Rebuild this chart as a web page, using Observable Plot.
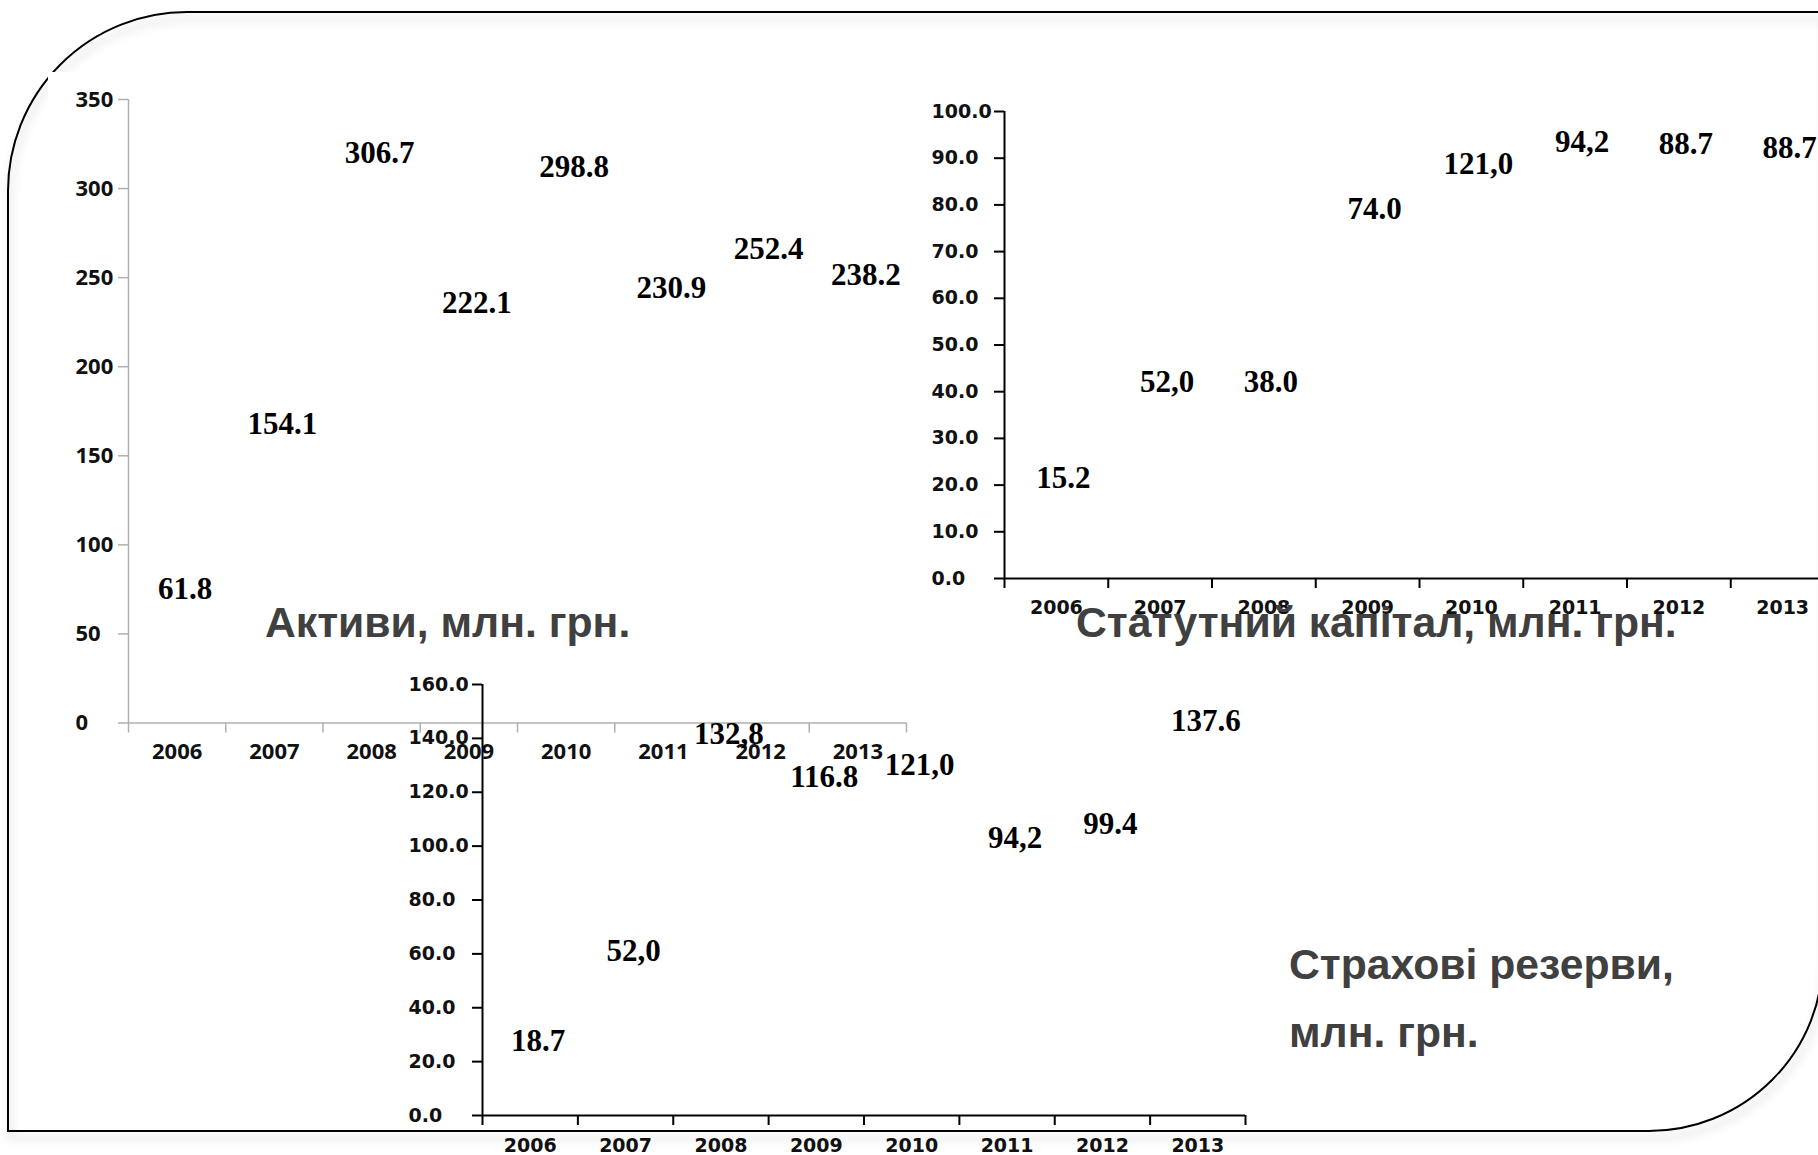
<!DOCTYPE html>
<html>
<head>
<meta charset="utf-8">
<script src="https://cdn.jsdelivr.net/npm/d3@7"></script>
<script src="https://cdn.jsdelivr.net/npm/@observablehq/plot@0.6"></script>
<style>
  html, body { margin: 0; padding: 0; width: 1818px; height: 1155px; overflow: hidden; background: #fff; }
  #frame { position: absolute; left: 7px; top: 11px; width: 1817px; height: 1121px; box-sizing: border-box;
           border: 2.5px solid #000; border-radius: 180px 0 175px 0;
           filter: drop-shadow(2px 7px 5px rgba(0,0,0,0.22)); }
  .chart { position: absolute; }
  .chart svg { overflow: visible; max-width: none !important; height: auto; }
  .title { position: absolute; font-family: "Liberation Sans", Arial, sans-serif; font-weight: bold;
           font-size: 42.7px; color: #404040; white-space: nowrap; line-height: 1; }
</style>
</head>
<body>
<div id="frame"></div>
<div id="c1" class="chart" style="left:48px;top:72px;width:872px;height:708px"></div>
<div id="c2" class="chart" style="left:920px;top:80px;width:920px;height:550px"></div>
<div id="c3" class="chart" style="left:400px;top:660px;width:860px;height:495px"></div>
<div class="title" style="left:265px;top:601px">Активи, млн. грн.</div>
<div class="title" style="left:1076px;top:601px">Статутний капітал, млн. грн.</div>
<div class="title" style="left:1289px;top:943px">Страхові резерви,</div>
<div class="title" style="left:1289px;top:1011px">млн. грн.</div>
<script>
// ---- data ----
const years = ["2006", "2007", "2008", "2009", "2010", "2011", "2012", "2013"];

// Активи, млн. грн.
const assetsValues = [61.8, 154.1, 306.7, 222.1, 298.8, 230.9, 252.4, 238.2];
const assetsLabels = ["61.8", "154.1", "306.7", "222.1", "298.8", "230.9", "252.4", "238.2"];
const assetsTicks = [0, 50, 100, 150, 200, 250, 300, 350];

// Статутний капітал, млн. грн. (label positions; label texts as printed)
const capitalValues = [16.4, 37.0, 37.0, 73.9, 83.6, 88.4, 87.8, 87.1];
const capitalLabels = ["15.2", "52,0", "38.0", "74.0", "121,0", "94,2", "88.7", "88.7"];
const capitalTicks = [0, 10, 20, 30, 40, 50, 60, 70, 80, 90, 100];

// Страхові резерви, млн. грн.
const reservesValues = [18.7, 52.0, 132.8, 116.8, 121.0, 94.2, 99.4, 137.6];
const reservesLabels = ["18.7", "52,0", "132,8", "116.8", "121,0", "94,2", "99.4", "137.6"];
const reservesTicks = [0, 20, 40, 60, 80, 100, 120, 140, 160];

function makeChart(o) {
  const n = years.length;
  const yMax = o.ticks[o.ticks.length - 1];
  const svg = Plot.plot({
    width: o.width, height: o.height,
    marginLeft: o.ml, marginTop: o.mt, marginRight: o.mr, marginBottom: o.mb,
    x: {type: "linear", domain: [0, n], axis: null},
    y: {type: "linear", domain: [0, yMax], axis: null},
    style: {background: o.background, overflow: "visible", maxWidth: "none"},
    marks: [
      Plot.axisY(o.ticks, {tickSize: 10, stroke: o.axisColor, strokeWidth: o.axisWidth, fill: "none", label: null}),
      Plot.axisX(d3.range(0, n + 1), {anchor: "bottom", tickSize: 10, stroke: o.axisColor, strokeWidth: o.axisWidth, fill: "none", label: null}),
      Plot.ruleX([0], {y1: 0, y2: yMax, stroke: o.axisColor, strokeWidth: o.axisWidth}),
      Plot.ruleY([0], {x1: 0, x2: n, stroke: o.axisColor, strokeWidth: o.axisWidth}),
      Plot.text(o.ticks, {y: d => d, text: o.tickFmt, frameAnchor: "left", textAnchor: "start", dx: o.yLabelDx,
        fontFamily: o.tickFont, fontWeight: "bold", fontSize: o.yTickSize, fill: "#111"}),
      Plot.text(years, {x: (d, i) => i + 0.5, text: d => d, frameAnchor: "bottom", dy: o.yearDy,
        fontFamily: o.tickFont, fontWeight: "bold", fontSize: o.xTickSize, fill: "#111"}),
      Plot.text(o.values, {x: (d, i) => i + 0.5, y: d => d, text: (d, i) => o.labels[i], dy: -24, dx: o.valueDx,
        fontFamily: "'Liberation Serif', 'Times New Roman', serif", fontWeight: "bold", fontSize: 31, fill: "#000"})
    ]
  });
  svg.style.maxWidth = "none";
  return svg;
}

document.getElementById("c1").append(makeChart({
  width: 872, height: 708, ml: 80, mt: 27, mr: 14, mb: 57.5,
  ticks: assetsTicks, tickFmt: d => String(d), values: assetsValues, labels: assetsLabels,
  axisColor: "#b0b0b0", axisWidth: 1.5, tickFont: "'Open Sans', sans-serif", yTickSize: 22, xTickSize: 22,
  yLabelDx: -53, yearDy: 36, valueDx: 8, background: "white"
}));

document.getElementById("c2").append(makeChart({
  width: 920, height: 550, ml: 84, mt: 31, mr: 6, mb: 52,
  ticks: capitalTicks, tickFmt: d => d.toFixed(1), values: capitalValues, labels: capitalLabels,
  axisColor: "#000", axisWidth: 2, tickFont: "'DejaVu Sans', sans-serif", yTickSize: 19, xTickSize: 19,
  yLabelDx: -73, yearDy: 35, valueDx: 7, background: "transparent"
}));

document.getElementById("c3").append(makeChart({
  width: 860, height: 495, ml: 82, mt: 24, mr: 15, mb: 40,
  ticks: reservesTicks, tickFmt: d => d.toFixed(1), values: reservesValues, labels: reservesLabels,
  axisColor: "#000", axisWidth: 2, tickFont: "'DejaVu Sans', sans-serif", yTickSize: 19, xTickSize: 19,
  yLabelDx: -74, yearDy: 36, valueDx: 8, background: "transparent"
}));
</script>
</body>
</html>
